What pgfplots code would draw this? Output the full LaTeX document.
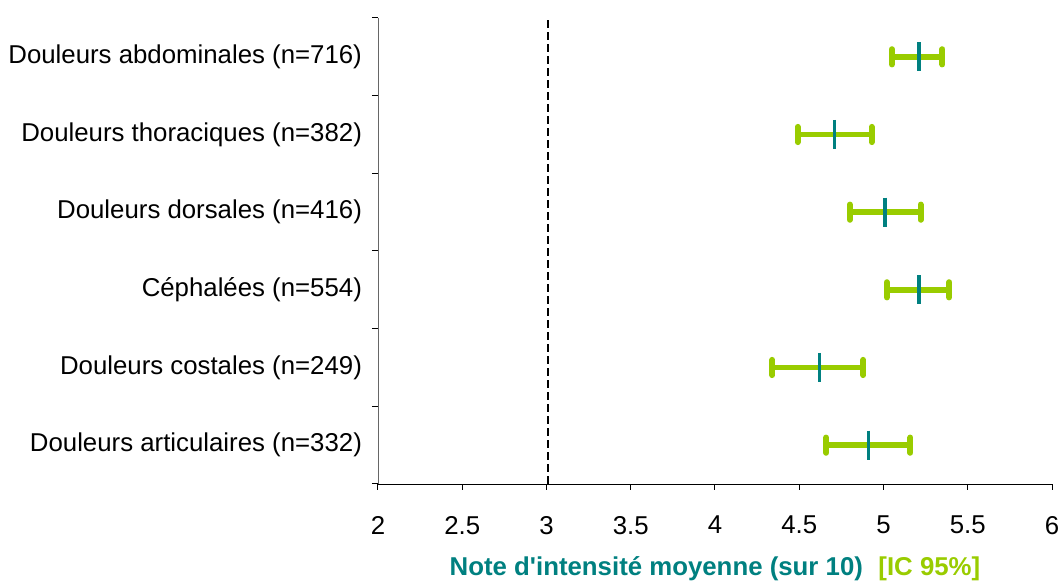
\documentclass[border=0pt]{standalone}
\usepackage{pgfplots}
\pgfplotsset{compat=1.18}
\usepackage{fontspec}
\setmainfont{Liberation Sans}
\definecolor{cgreen}{HTML}{99CC00}
\definecolor{cteal}{HTML}{008080}
\pgfdeclareplotmark{pill}{%
  \pgfsetroundcap
  \pgfpathmoveto{\pgfqpoint{-\pgfplotmarksize}{0pt}}%
  \pgfpathlineto{\pgfqpoint{\pgfplotmarksize}{0pt}}%
  \pgfusepathqstroke}
\begin{document}
\begin{tikzpicture}
\useasboundingbox (-189pt,-48.5pt) rectangle (341.5pt,242pt);
\begin{axis}[
  at={(0,0)}, anchor=south west,
  scale only axis, width=337pt, height=233pt,
  xmin=2, xmax=6, ymin=0, ymax=6,
  axis x line=bottom, axis y line=left,
  axis line style={-},
  y axis line style={draw=gray!80!black},
  x axis line style={draw=black},
  xtick={2,2.5,...,6},
  xticklabels={2,2.5,3,3.5,4,4.5,5,5.5,6},
  xtick align=outside,
  ytick={0,...,6}, yticklabels={},
  ytick align=outside,
  major tick length=3pt,
  tick style={black, line width=0.5pt},
  extra y ticks={0.5,1.5,2.5,3.5,4.5,5.5},
  extra y tick labels={Douleurs articulaires (n=332),Douleurs costales (n=249),Céphalées (n=554),Douleurs dorsales (n=416),Douleurs thoraciques (n=382),Douleurs abdominales (n=716)},
  extra y tick style={major tick length=0pt, yticklabel style={xshift=-4.5pt}},
  /pgf/number format/assume math mode=true,
  ticklabel style={font=\fontsize{12.9}{15}\selectfont},
  xticklabel style={yshift=-9.5pt},
  xlabel={\textcolor{cteal}{Note d\textquotesingle intensité moyenne (sur 10)}\hspace{0.6em}\textcolor{cgreen}{[IC 95\%]}},
  xlabel style={font=\fontsize{12.9}{15}\selectfont\bfseries, yshift=-4.5pt},
  clip=false,
]
\addplot[black, line width=1pt, dash pattern=on 4pt off 2pt] coordinates {(3.01,0) (3.01,6)};
\addplot[only marks, mark=|, mark size=7.3pt, mark options={draw=cteal, line width=1.8pt},
  error bars/.cd, x dir=both, x explicit,
  error mark=pill,
  error bar style={draw=cgreen, line width=2.75pt},
  error mark options={draw=cgreen, line width=3pt, mark size=3.8pt, rotate=90}]
coordinates {
  (5.21,5.5) += (0.14,0) -= (0.16,0)
  (4.71,4.5) += (0.22,0) -= (0.22,0)
  (5.01,3.5) += (0.21,0) -= (0.21,0)
  (5.21,2.5) += (0.18,0) -= (0.19,0)
  (4.62,1.5) += (0.26,0) -= (0.28,0)
  (4.91,0.5) += (0.25,0) -= (0.25,0)
};
\end{axis}
\end{tikzpicture}
\end{document}
